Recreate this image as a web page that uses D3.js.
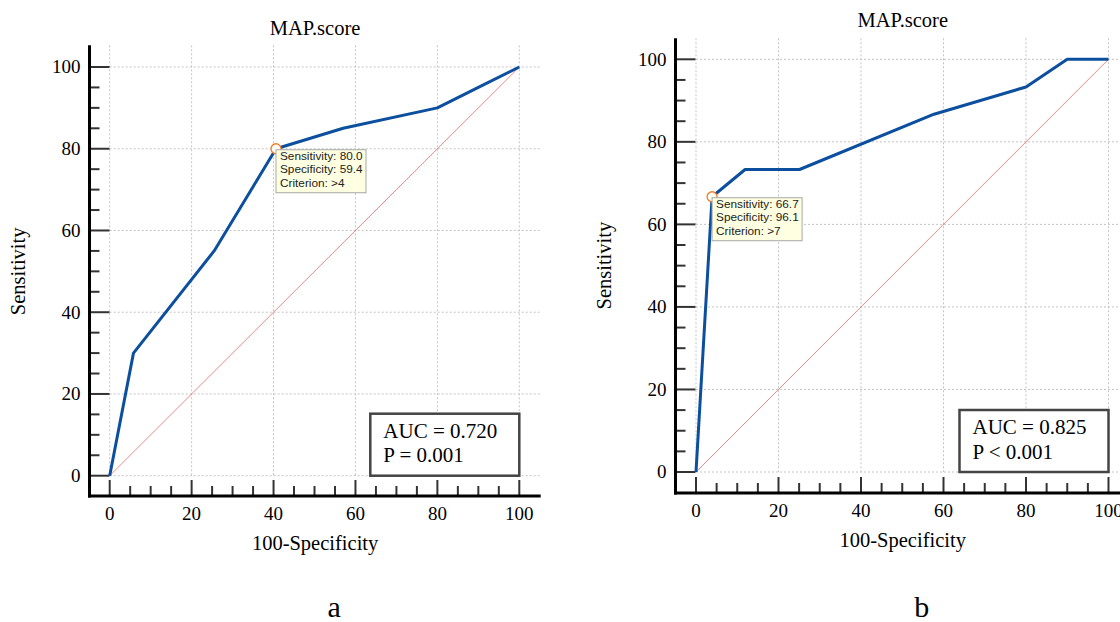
<!DOCTYPE html>
<html>
<head>
<meta charset="utf-8">
<script src="https://cdn.jsdelivr.net/npm/d3@7"></script>
<style>
  body { margin: 0; background: #fff; }
  svg { display: block; }
</style>
</head>
<body>
<div id="chart"></div>
<script>
// ROC data, panel a
const fprA = [0, 5.8, 25.5, 40.6, 57, 80, 90, 100];
const sensA = [0, 30, 55, 80, 85, 90, 95, 100];
// ROC data, panel b
const fprB = [0, 3.9, 11.9, 25.1, 57.7, 80, 90, 100];
const sensB = [0, 66.7, 73.3, 73.3, 86.7, 93.3, 100, 100];

const majorTicks = [0, 20, 40, 60, 80, 100];
const minorTicks = d3.range(0, 101, 5).filter(d => d % 20 !== 0);

const panelTitles = ["MAP.score", "MAP.score"];
const panelLetters = ["a", "b"];
const cutPointsA = ["Sensitivity: 80.0", "Specificity: 59.4", "Criterion: >4"];
const cutPointsB = ["Sensitivity: 66.7", "Specificity: 96.1", "Criterion: >7"];
const optimalA = [40.6, 80];
const optimalB = [3.9, 66.7];
const aucLinesA = ["AUC = 0.720", "P = 0.001"];
const aucLinesB = ["AUC = 0.825", "P < 0.001"];

const svg = d3.select("#chart").append("svg")
    .attr("width", 1120)
    .attr("height", 622);

const serif = "'Liberation Serif', 'Times New Roman', serif";
const sans = "'Liberation Sans', Arial, sans-serif";

function drawPanel(p) {
    let g = svg.append("g");

    let x = d3.scaleLinear().domain([0, 100]).range([p.x0, p.x100]);
    let y = d3.scaleLinear().domain([0, 100]).range([p.y0, p.y100]);

    // grid
    g.selectAll(".vgrid").data(majorTicks).join("line")
        .attr("x1", d => x(d)).attr("x2", d => x(d))
        .attr("y1", p.top).attr("y2", y(0))
        .attr("stroke", "#c4c4c4").attr("stroke-width", 1)
        .attr("stroke-dasharray", "2,2");
    g.selectAll(".hgrid").data(majorTicks).join("line")
        .attr("x1", x(0)).attr("x2", p.right)
        .attr("y1", d => y(d)).attr("y2", d => y(d))
        .attr("stroke", "#c4c4c4").attr("stroke-width", 1)
        .attr("stroke-dasharray", "2,2");

    // diagonal reference
    g.append("line")
        .attr("x1", x(0)).attr("y1", y(0))
        .attr("x2", x(100)).attr("y2", y(100))
        .attr("stroke", "#e85a5a").attr("stroke-width", 0.9)
        .attr("stroke-opacity", 0.8);

    // ticks
    g.selectAll(".ymaj").data(majorTicks).join("line")
        .attr("x1", p.axisX).attr("x2", p.axisX + 20)
        .attr("y1", d => y(d)).attr("y2", d => y(d))
        .attr("stroke", "#333").attr("stroke-width", 2);
    g.selectAll(".ymin").data(minorTicks).join("line")
        .attr("x1", p.axisX).attr("x2", p.axisX + 10)
        .attr("y1", d => y(d)).attr("y2", d => y(d))
        .attr("stroke", "#333").attr("stroke-width", 2);
    g.selectAll(".xmaj").data(majorTicks).join("line")
        .attr("x1", d => x(d)).attr("x2", d => x(d))
        .attr("y1", p.axisY).attr("y2", p.axisY - 16)
        .attr("stroke", "#333").attr("stroke-width", 2);
    g.selectAll(".xmin").data(minorTicks).join("line")
        .attr("x1", d => x(d)).attr("x2", d => x(d))
        .attr("y1", p.axisY).attr("y2", p.axisY - 10)
        .attr("stroke", "#333").attr("stroke-width", 2);

    // axis lines
    g.append("line")
        .attr("x1", p.axisX).attr("x2", p.axisX)
        .attr("y1", p.top).attr("y2", p.axisY + 1.5)
        .attr("stroke", "#000").attr("stroke-width", 3);
    g.append("line")
        .attr("x1", p.axisX - 1.5).attr("x2", p.right)
        .attr("y1", p.axisY).attr("y2", p.axisY)
        .attr("stroke", "#000").attr("stroke-width", 3);

    // tick labels
    g.selectAll(".ylab").data(majorTicks).join("text")
        .attr("x", p.axisX - 9).attr("y", d => y(d))
        .attr("dy", "0.34em")
        .attr("text-anchor", "end")
        .attr("font-family", serif).attr("font-size", 19)
        .text(d => d);
    g.selectAll(".xlab").data(majorTicks).join("text")
        .attr("x", d => x(d)).attr("y", p.axisY + 24)
        .attr("text-anchor", "middle")
        .attr("font-family", serif).attr("font-size", 19)
        .text(d => d);

    // titles
    let cx = (p.axisX + p.right) / 2;
    g.append("text")
        .attr("x", cx).attr("y", p.titleY)
        .attr("text-anchor", "middle")
        .attr("font-family", serif).attr("font-size", 20.5)
        .text(p.title);
    g.append("text")
        .attr("x", cx).attr("y", p.axisY + 54)
        .attr("text-anchor", "middle")
        .attr("font-family", serif).attr("font-size", 20.5)
        .text("100-Specificity");
    g.append("text")
        .attr("transform", "translate(" + (p.axisX - 65) + "," + ((p.y0 + p.y100) / 2) + ") rotate(-90)")
        .attr("text-anchor", "middle")
        .attr("font-family", serif).attr("font-size", 20.5)
        .text("Sensitivity");
    g.append("text")
        .attr("x", cx + 19).attr("y", 617)
        .attr("text-anchor", "middle")
        .attr("font-family", serif).attr("font-size", 30)
        .text(p.letter);

    // ROC curve
    let pts = p.fpr.map((d, i) => [d, p.sens[i]]);
    let line = d3.line().x(d => x(d[0])).y(d => y(d[1]));
    g.append("path")
        .attr("d", line(pts))
        .attr("fill", "none")
        .attr("stroke", "#0c4f9e")
        .attr("stroke-width", 3)
        .attr("stroke-linejoin", "round");

    // optimal point
    g.append("circle")
        .attr("cx", x(p.opt[0])).attr("cy", y(p.opt[1]))
        .attr("r", 5)
        .attr("fill", "#fffdf6")
        .attr("stroke", "#f07a28").attr("stroke-width", 1.3);

    // tooltip
    let tx = x(p.opt[0]), ty = y(p.opt[1]) + 1;
    g.append("rect")
        .attr("x", tx).attr("y", ty)
        .attr("width", 90).attr("height", 43)
        .attr("fill", "#ffffe1").attr("stroke", "#a8a8a8").attr("stroke-width", 1);
    g.selectAll(".tip").data(p.tip).join("text")
        .attr("x", tx + 4)
        .attr("y", (d, i) => ty + 10 + i * 13.5)
        .attr("font-family", sans).attr("font-size", 11.8)
        .attr("fill", "#222")
        .text(d => d);

    // AUC box
    let bw = 149, bh = 62;
    g.append("rect")
        .attr("x", x(100) - bw).attr("y", y(0) - bh)
        .attr("width", bw).attr("height", bh)
        .attr("fill", "#fff").attr("stroke", "#444").attr("stroke-width", 2.5);
    g.selectAll(".auc").data(p.auc).join("text")
        .attr("x", x(100) - bw + 13)
        .attr("y", (d, i) => y(0) - bh + 24 + i * 24.5)
        .attr("font-family", serif).attr("font-size", 21)
        .text(d => d);
}

drawPanel({
    x0: 109.7, x100: 519.3, y0: 475.7, y100: 67,
    axisX: 89.5, axisY: 496, top: 45.3, right: 540.7, titleY: 35,
    title: panelTitles[0], letter: panelLetters[0],
    fpr: fprA, sens: sensA, opt: optimalA, tip: cutPointsA, auc: aucLinesA
});
drawPanel({
    x0: 696, x100: 1108.5, y0: 472, y100: 59.3,
    axisX: 675.5, axisY: 493, top: 38.3, right: 1130, titleY: 27,
    title: panelTitles[1], letter: panelLetters[1],
    fpr: fprB, sens: sensB, opt: optimalB, tip: cutPointsB, auc: aucLinesB
});
</script>
</body>
</html>
